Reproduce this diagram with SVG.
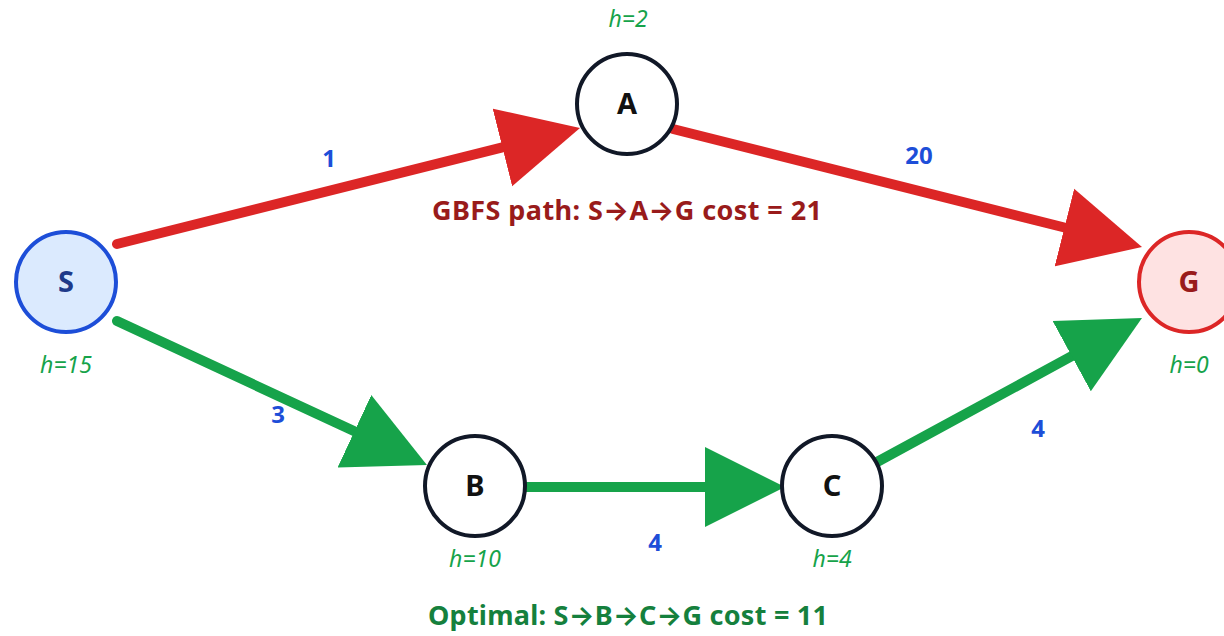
<svg xmlns="http://www.w3.org/2000/svg" width="1224" height="636" viewBox="0 0 1224 636">
  <defs>
    <style>
      .edge { fill: none; stroke-width: 10; stroke-linecap: round; }
      .red { stroke: #dc2626; }
      .green { stroke: #16a34a; }
      .node { fill: #ffffff; stroke: #111827; stroke-width: 4; }
      .start { fill: #dbeafe; stroke: #1d4ed8; }
      .goal { fill: #fee2e2; stroke: #dc2626; }
      .letter { font-family: "Noto Sans", "Liberation Sans", sans-serif; font-weight: bold; font-size: 29px; text-anchor: middle; fill: #111111; }
      .heur { font-family: "Noto Sans", "Liberation Sans", sans-serif; font-style: italic; font-size: 23px; text-anchor: middle; fill: #16a34a; }
      .cost { font-family: "Noto Sans", "Liberation Sans", sans-serif; font-weight: bold; font-size: 24px; text-anchor: middle; fill: #1d4ed8; }
      .title { font-family: "Noto Sans", "Liberation Sans", sans-serif; font-weight: bold; font-size: 27px; text-anchor: middle; }
      .arrow { font-family: "Inter", "DejaVu Sans", sans-serif; font-weight: bold; }
    </style>
    <marker id="headRed" markerUnits="userSpaceOnUse" markerWidth="82" markerHeight="82" viewBox="0 -41 82 82" refX="0" refY="0" orient="auto">
      <path d="M0,-40 L80,0 L0,40 Z" fill="#dc2626"/>
    </marker>
    <marker id="headGreen" markerUnits="userSpaceOnUse" markerWidth="82" markerHeight="82" viewBox="0 -41 82 82" refX="0" refY="0" orient="auto">
      <path d="M0,-40 L80,0 L0,40 Z" fill="#16a34a"/>
    </marker>
  </defs>

  <rect width="1224" height="636" fill="#ffffff"/>

  <!-- connectors: each line stops at the arrowhead base, the marker carries the tip -->
  <g id="edges">
    <path class="edge red" d="M117,244 L502.4,147.4" marker-end="url(#headRed)"/>
    <path class="edge red" d="M673,129 L1064.4,227.5" marker-end="url(#headRed)"/>
    <path class="edge green" d="M117,321 L354.4,431.3" marker-end="url(#headGreen)"/>
    <path class="edge green" d="M520,487 L705,487" marker-end="url(#headGreen)"/>
    <path class="edge green" d="M877,462 L1071.7,356.2" marker-end="url(#headGreen)"/>
  </g>

  <!-- edge costs -->
  <g id="costs">
    <text class="cost" x="329" y="167">1</text>
    <text class="cost" x="919" y="164">20</text>
    <text class="cost" x="278" y="423">3</text>
    <text class="cost" x="655" y="551">4</text>
    <text class="cost" x="1038" y="437">4</text>
  </g>

  <!-- nodes with heuristic values -->
  <g id="node-S">
    <circle class="node start" cx="66" cy="282" r="50"/>
    <text class="letter" x="66" y="292" style="fill:#1e3a8a">S</text>
    <text class="heur" x="66" y="373">h=15</text>
  </g>
  <g id="node-A">
    <circle class="node" cx="627" cy="104" r="50"/>
    <text class="letter" x="627" y="114">A</text>
    <text class="heur" x="628" y="27">h=2</text>
  </g>
  <g id="node-B">
    <circle class="node" cx="475" cy="486" r="50"/>
    <text class="letter" x="475" y="496">B</text>
    <text class="heur" x="475" y="567">h=10</text>
  </g>
  <g id="node-C">
    <circle class="node" cx="832" cy="486" r="50"/>
    <text class="letter" x="832" y="496">C</text>
    <text class="heur" x="832" y="567">h=4</text>
  </g>
  <g id="node-G">
    <circle class="node goal" cx="1189" cy="282" r="50"/>
    <text class="letter" x="1189" y="292" style="fill:#991b1b">G</text>
    <text class="heur" x="1189" y="373">h=0</text>
  </g>

  <!-- path captions -->
  <g id="captions">
    <text class="title" x="627" y="220" fill="#991b1b" textLength="390">GBFS path: S<tspan class="arrow">→</tspan>A<tspan class="arrow">→</tspan>G cost = 21</text>
    <text class="title" x="628" y="625" fill="#15803d" textLength="400">Optimal: S<tspan class="arrow">→</tspan>B<tspan class="arrow">→</tspan>C<tspan class="arrow">→</tspan>G cost = 11</text>
  </g>
</svg>
